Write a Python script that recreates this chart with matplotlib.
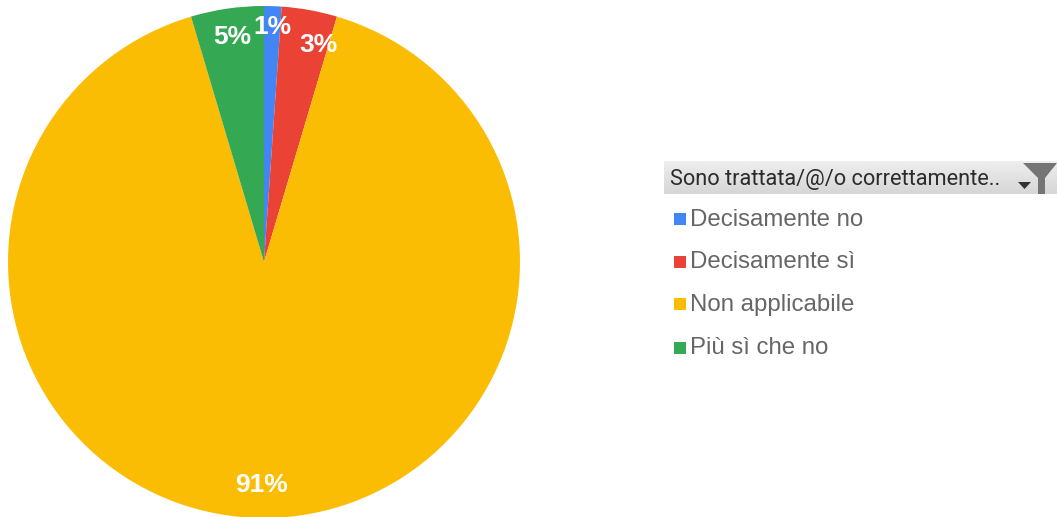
import matplotlib
matplotlib.use('Agg')
import matplotlib.pyplot as plt
import numpy as np
from matplotlib.patches import Rectangle, Polygon

# dati
categories = ['Decisamente no', 'Decisamente sì', 'Non applicabile', 'Più sì che no']
values = [1.1, 3.5, 90.8, 4.6]
pct_labels = ['1%', '3%', '91%', '5%']
colors = ['#4285F4', '#EA4335', '#FBBC04', '#34A853']
filter_title = 'Sono trattata/@/o correttamente..'

W, H = 1057, 517
plt.rcParams['font.family'] = ['Liberation Sans', 'DejaVu Sans']

fig = plt.figure(figsize=(W / 100, H / 100), dpi=100)

# torta
cx, cy, r = 264, 262, 256
ax = fig.add_axes([(cx - r) / W, 1 - (cy + r) / H, 2 * r / W, 2 * r / H])
wedges, _ = ax.pie(values, colors=colors, startangle=90, counterclock=False, radius=1,
                   wedgeprops={'linewidth': 0})
ax.set_xlim(-1, 1)
ax.set_ylim(-1, 1)
label_pos = [(272, 27), (318, 45), (262, 485), (232, 37)]
for txt, (x, y) in zip(pct_labels, label_pos):
    fig.text(x / W, 1 - y / H, txt, color='white', fontsize=19, fontweight='bold',
             ha='center', va='center')

# legenda
ov = fig.add_axes([0, 0, 1, 1])
ov.axis('off')
ov.patch.set_alpha(0)
# fascia grigia sfumata del filtro
band = np.linspace(0.93, 0.84, 32).reshape(-1, 1)
ov.imshow(band, extent=(664, 1057, 194, 161), cmap='gray', vmin=0, vmax=1, aspect='auto')
ov.set_xlim(0, W)
ov.set_ylim(H, 0)
ov.text(670, 180, filter_title, fontsize=15.7, color='#2B2B2B', va='center', ha='left',
        family=['Roboto', 'DejaVu Sans'])
ov.add_patch(Polygon([(1018, 182), (1031, 182), (1024.5, 189)], fc='#333333', ec='none'))
ov.add_patch(Polygon([(1023, 163), (1057, 163), (1045, 178), (1045, 194), (1038, 194), (1038, 178)],
                     fc='#757575', ec='none'))
leg_y = [218, 261, 303, 347]
for name, col, y in zip(categories, colors, leg_y):
    ov.add_patch(Rectangle((674, y - 5), 12, 12, fc=col, ec='none'))
    ov.text(690, y + 1.5, name, fontsize=17.3, color='#666666', va='center', ha='left')

fig.savefig('out.png', dpi=100)
